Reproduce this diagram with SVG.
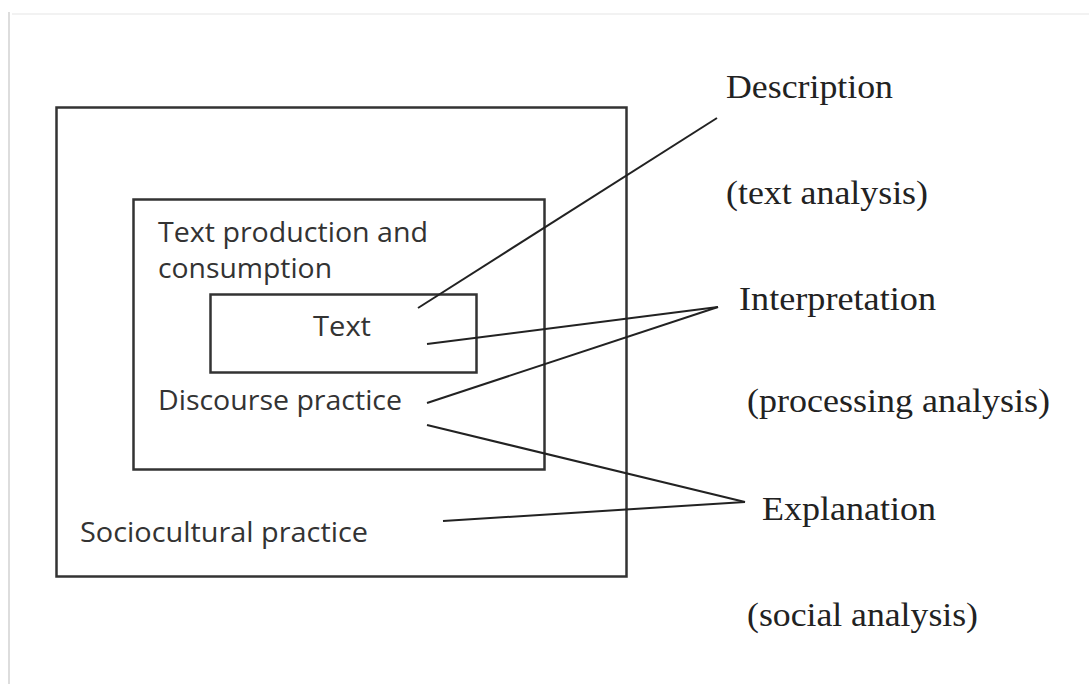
<svg xmlns="http://www.w3.org/2000/svg" width="1089" height="684" viewBox="0 0 1089 684">
<style>
.box{fill:none;stroke:#333;stroke-width:2.5}
.ln{stroke:#222;stroke-width:2;fill:none}
.sans{font-family:"Open Sans","Liberation Sans",sans-serif;font-size:27px;fill:#333}
.serif{font-family:"Liberation Serif","Times New Roman",serif;font-size:33px;fill:#222}
.frame{stroke:#ddd;stroke-width:2;fill:none}
</style>
<rect width="1089" height="684" fill="#fff"/>
<path class="frame" d="M9,684 V12"/>
<path d="M12,14 H1089" stroke="#f2f2f2" stroke-width="2"/>
<g id="sociocultural">
<rect class="box" x="56.5" y="107.5" width="570" height="469"/>
<text class="sans" x="80" y="542" textLength="288" lengthAdjust="spacingAndGlyphs">Sociocultural practice</text>
</g>
<g id="discourse">
<rect class="box" x="133.5" y="199.5" width="411" height="270"/>
<text class="sans" x="158" y="242" textLength="270" lengthAdjust="spacingAndGlyphs">Text production and</text>
<text class="sans" x="158" y="278" textLength="174" lengthAdjust="spacingAndGlyphs">consumption</text>
<text class="sans" x="158" y="410" textLength="244" lengthAdjust="spacingAndGlyphs">Discourse practice</text>
</g>
<g id="text">
<rect class="box" x="210.5" y="294.5" width="266" height="78"/>
<text class="sans" x="313" y="336" textLength="58" lengthAdjust="spacingAndGlyphs">Text</text>
</g>
<g id="connectors">
<line class="ln" x1="418" y1="308" x2="717" y2="118"/>
<line class="ln" x1="427" y1="344" x2="718" y2="307"/>
<line class="ln" x1="427" y1="403" x2="718" y2="307"/>
<line class="ln" x1="427" y1="425" x2="745" y2="502"/>
<line class="ln" x1="443" y1="521" x2="745" y2="502"/>
</g>
<g id="description">
<text class="serif" x="726" y="98" textLength="167" lengthAdjust="spacingAndGlyphs">Description</text>
<text class="serif" x="726" y="204" textLength="202" lengthAdjust="spacingAndGlyphs">(text analysis)</text>
</g>
<g id="interpretation">
<text class="serif" x="739" y="310" textLength="197" lengthAdjust="spacingAndGlyphs">Interpretation</text>
<text class="serif" x="747" y="412" textLength="303" lengthAdjust="spacingAndGlyphs">(processing analysis)</text>
</g>
<g id="explanation">
<text class="serif" x="762" y="520" textLength="174" lengthAdjust="spacingAndGlyphs">Explanation</text>
<text class="serif" x="747" y="626" textLength="231" lengthAdjust="spacingAndGlyphs">(social analysis)</text>
</g>
</svg>
